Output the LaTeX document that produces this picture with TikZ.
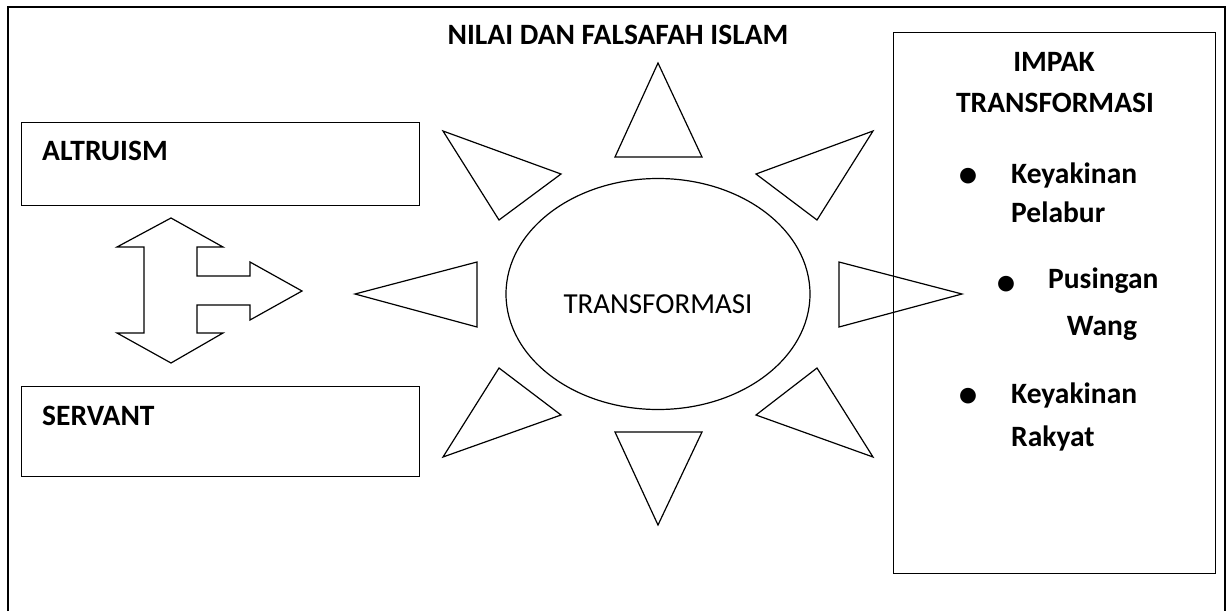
\documentclass[tikz,border=0pt]{standalone}
\usepackage{fontspec}
\setmainfont{Carlito}
\usepackage{tikz}
\usetikzlibrary{shapes, shapes.geometric, positioning, calc}
\tikzstyle{frame} = [draw, line width=1.6pt]
\tikzstyle{panel} = [draw, line width=1.2pt, anchor=north west, inner sep=0pt, minimum width=398pt]
\tikzstyle{ray} = [draw, line width=1.2pt, line join=miter]
\tikzstyle{heading} = [font=\fontsize{29.5}{32}\selectfont\bfseries, inner sep=0pt, anchor=base west]
\tikzstyle{dot} = [font=\fontsize{37}{40}\selectfont\bfseries, inner sep=0pt, anchor=base]

\begin{document}
\begin{tikzpicture}[x=1pt, y=-1pt]
        \useasboundingbox (0,0) rectangle (1227,611);
        % outer frame, open at the bottom
        \draw[frame] (8,611) -- (8,7) -- (1225,7) -- (1225,611);
        \node[heading, anchor=base] (title) at (618,44) {NILAI DAN FALSAFAH ISLAM};

        % left boxes
        \node[panel, minimum height=83pt] (altruism) at (21,122) {};
        \node[heading] (altruismtext) at (42,160) {ALTRUISM};
        \node[panel, minimum height=90pt] (servant) at (21,386) {};
        \node[heading] (servanttext) at (42,425) {SERVANT};

        % double arrow with a branch to the right
        \draw[ray] (171,218) -- (223,247) -- (197,247) -- (197,276) -- (250,276) -- (250,262)
            -- (302,291) -- (250,320) -- (250,305) -- (197,305) -- (197,333) -- (223,333)
            -- (171,363) -- (117,333) -- (144,333) -- (144,247) -- (117,247) -- cycle;

        % sun
        \node[ellipse, draw, line width=1.2pt, inner sep=0pt, minimum width=304pt, minimum height=231pt] (sun) at (658,294) {};
        \node[font=\fontsize{29}{32}\selectfont] (suntext) at ([yshift=-10pt]sun.center) {TRANSFORMASI};
        \foreach \ax/\ay/\bx/\by/\cx/\cy in {615/157/702/157/658/63, 615/432/702/432/658/525,
            477/262/477/327/355/294, 839/262/839/327/962/294,
            443/131/561/174/499/220, 873/131/756/174/817/220,
            499/368/561/415/443/457, 817/368/756/415/873/457}
            \draw[ray] (\ax,\ay) -- (\bx,\by) -- (\cx,\cy) -- cycle;

        % impact box
        \node[draw, line width=1.2pt, anchor=north west, inner sep=0pt, minimum width=322pt, minimum height=541pt] (impak) at (893,32) {};
        \node[heading, anchor=base] (impaktitle) at (1054,71) {IMPAK};
        \node[heading, anchor=base] (impaktitleb) at (1055,112) {TRANSFORMASI};
        \node[dot] (dota) at (968,186.5) {\textbullet};
        \node[heading] (itema) at (1011,183) {Keyakinan};
        \node[heading] (itemab) at (1011,222) {Pelabur};
        \node[dot] (dotb) at (1006,294.5) {\textbullet};
        \node[heading] (itemb) at (1048,288) {Pusingan};
        \node[heading, anchor=base] (itembb) at (1102,335) {Wang};
        \node[dot] (dotc) at (968,406.5) {\textbullet};
        \node[heading] (itemc) at (1011,403) {Keyakinan};
        \node[heading] (itemcb) at (1011,446) {Rakyat};
\end{tikzpicture}
\end{document}
